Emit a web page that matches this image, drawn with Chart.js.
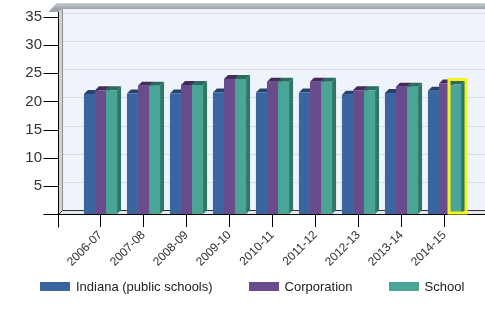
<!DOCTYPE html>
<html>
<head>
<meta charset="utf-8">
<title>Average class size</title>
<script src="https://cdn.jsdelivr.net/npm/chart.js@4"></script>
<style>
  html, body { margin: 0; padding: 0; background: #fff; }
  #wrap { position: relative; width: 485px; height: 328px; }
  #legend {
    position: absolute; left: 40px; top: 279px;
    display: flex; align-items: center;
    font: 13px "Liberation Sans", Arial, sans-serif; color: #222;
  }
  #legend .item { display: flex; align-items: center; margin-right: 36px; white-space: nowrap; }
  #legend .box { width: 30px; height: 9px; margin-right: 6px; }
</style>
</head>
<body>
<div id="wrap">
  <canvas id="chart" width="485" height="328"></canvas>
  <div id="legend"></div>
</div>
<script>
// school years on the x axis
const years = ['2006-07', '2007-08', '2008-09', '2009-10', '2010-11', '2011-12', '2012-13', '2013-14', '2014-15'];

const indiana = [21.3, 21.4, 21.4, 21.6, 21.6, 21.6, 21.2, 21.5, 21.9];
const corporation = [22.0, 22.8, 22.9, 24.0, 23.5, 23.5, 22.0, 22.6, 23.2];
const school = [22.0, 22.8, 22.9, 24.0, 23.5, 23.5, 22.0, 22.6, 23.0];

// y axis runs 0..35 in steps of 5
const yMax = 35;
const yStep = 5;

// colours: front face, side face, top face
const colors = [
    { front: '#3b65a1', side: '#2a4a7a', top: '#26436e' },
    { front: '#6a4b8b', side: '#4b3166', top: '#432b5c' },
    { front: '#4aa596', side: '#2f7667', top: '#2b6b5d' }
];

const DEPTH = 4;      // 3d offset of the walls and bars
const AXIS_GAP = 21;  // the y axis sits a bit left of the first category

const FONT = '"Liberation Sans", Arial, sans-serif';

// back wall, left wall, top band, grid lines and tick marks
const frame3d = {
    id: 'frame3d',
    beforeDraw(chart) {
        const { ctx, chartArea: a, scales: { y }, width } = chart;
        const x0 = Math.round(a.left - AXIS_GAP) + 0.5;
        const y0 = Math.round(y.getPixelForValue(0)) + 0.5;
        const wallTop = y.getPixelForValue(yMax) - DEPTH - 4;

        ctx.save();
        // back wall
        ctx.fillStyle = '#eff4fc';
        ctx.fillRect(x0 + DEPTH, wallTop, width - x0 - DEPTH, y0 - DEPTH - wallTop);

        // top band
        const g = ctx.createLinearGradient(0, wallTop - 6, 0, wallTop);
        g.addColorStop(0, '#c9ced4');
        g.addColorStop(1, '#9ca2a9');
        ctx.fillStyle = g;
        ctx.beginPath();
        ctx.moveTo(x0 - 10, wallTop + 3);
        ctx.lineTo(x0 - 2, wallTop - 6);
        ctx.lineTo(width, wallTop - 6);
        ctx.lineTo(width, wallTop);
        ctx.lineTo(x0 + DEPTH, wallTop);
        ctx.lineTo(x0, wallTop + 3);
        ctx.closePath();
        ctx.fill();

        // grid lines on the back wall
        ctx.strokeStyle = '#d7dce4';
        ctx.lineWidth = 1;
        for (let v = yStep; v <= yMax; v += yStep) {
            const py = Math.round(y.getPixelForValue(v) - DEPTH) + 0.5;
            ctx.beginPath();
            ctx.moveTo(x0 + DEPTH, py);
            ctx.lineTo(width, py);
            ctx.stroke();
        }

        // left wall
        ctx.fillStyle = '#cfd3d8';
        ctx.beginPath();
        ctx.moveTo(x0, wallTop + 3);
        ctx.lineTo(x0 + DEPTH, wallTop);
        ctx.lineTo(x0 + DEPTH, y0 - DEPTH);
        ctx.lineTo(x0, y0);
        ctx.closePath();
        ctx.fill();
        ctx.strokeStyle = '#8a8f96';
        ctx.beginPath();
        ctx.moveTo(x0 + DEPTH, wallTop);
        ctx.lineTo(x0 + DEPTH, y0 - DEPTH);
        ctx.stroke();

        // floor
        ctx.fillStyle = '#e3e7ec';
        ctx.beginPath();
        ctx.moveTo(x0, y0);
        ctx.lineTo(x0 + DEPTH, y0 - DEPTH);
        ctx.lineTo(width, y0 - DEPTH);
        ctx.lineTo(width, y0);
        ctx.closePath();
        ctx.fill();
        ctx.strokeStyle = '#333';
        ctx.beginPath();
        ctx.moveTo(x0, y0);
        ctx.lineTo(x0 + DEPTH, y0 - DEPTH);
        ctx.lineTo(width, y0 - DEPTH);
        ctx.stroke();

        // y axis line and tick marks
        ctx.strokeStyle = '#000';
        ctx.beginPath();
        ctx.moveTo(x0, wallTop + 3);
        ctx.lineTo(x0, y0 + 13);
        for (let v = yStep; v <= yMax; v += yStep) {
            const py = Math.round(y.getPixelForValue(v)) + 0.5;
            ctx.moveTo(x0 - 15, py);
            ctx.lineTo(x0, py);
        }
        ctx.stroke();
        ctx.restore();
    },
    // side and top faces go behind the front faces
    beforeDatasetsDraw(chart) {
        const ctx = chart.ctx;
        ctx.save();
        chart.data.datasets.forEach((ds, i) => {
            const c = colors[i];
            chart.getDatasetMeta(i).data.forEach(bar => {
                const l = bar.x - bar.width / 2;
                const r = bar.x + bar.width / 2;
                ctx.fillStyle = c.side;
                ctx.beginPath();
                ctx.moveTo(r, bar.y);
                ctx.lineTo(r + DEPTH, bar.y - DEPTH);
                ctx.lineTo(r + DEPTH, bar.base - DEPTH);
                ctx.lineTo(r, bar.base);
                ctx.closePath();
                ctx.fill();
                ctx.fillStyle = c.top;
                ctx.beginPath();
                ctx.moveTo(l, bar.y);
                ctx.lineTo(l + DEPTH, bar.y - DEPTH);
                ctx.lineTo(r + DEPTH, bar.y - DEPTH);
                ctx.lineTo(r, bar.y);
                ctx.closePath();
                ctx.fill();
            });
        });
        ctx.restore();
    },
    afterDatasetsDraw(chart) {
        const { ctx, chartArea: a, scales: { y }, width } = chart;
        const x0 = Math.round(a.left - AXIS_GAP) + 0.5;
        const y0 = Math.round(y.getPixelForValue(0)) + 0.5;
        ctx.save();
        // x axis line
        ctx.strokeStyle = '#000';
        ctx.beginPath();
        ctx.moveTo(x0 - 15, y0);
        ctx.lineTo(width, y0);
        ctx.stroke();

        // the current year of the school series is outlined
        const last = chart.getDatasetMeta(2).data[years.length - 1];
        ctx.strokeStyle = '#f4f41c';
        ctx.lineWidth = 3;
        ctx.strokeRect(last.x - last.width / 2 - 1, last.y - DEPTH - 1,
            last.width + DEPTH + 2, last.base - last.y + DEPTH);
        ctx.restore();
    }
};

// legend as html under the canvas
const htmlLegend = {
    id: 'htmlLegend',
    afterUpdate(chart) {
        const box = document.getElementById('legend');
        box.innerHTML = '';
        chart.data.datasets.forEach((ds, i) => {
            const item = document.createElement('span');
            item.className = 'item';
            const sw = document.createElement('span');
            sw.className = 'box';
            sw.style.background = colors[i].front;
            item.appendChild(sw);
            item.appendChild(document.createTextNode(ds.label));
            box.appendChild(item);
        });
    }
};

new Chart(document.getElementById('chart'), {
    type: 'bar',
    data: {
        labels: years,
        datasets: [
            { label: 'Indiana (public schools)', data: indiana, backgroundColor: colors[0].front },
            { label: 'Corporation', data: corporation, backgroundColor: colors[1].front },
            { label: 'School', data: school, backgroundColor: colors[2].front }
        ]
    },
    options: {
        responsive: false,
        animation: false,
        layout: { padding: { left: 0, right: 19, top: 17, bottom: 60 } },
        datasets: { bar: { categoryPercentage: 0.77, barPercentage: 1, borderWidth: 0 } },
        scales: {
            x: {
                afterFit(scale) { scale.height = 54; },
                grid: { offset: false, drawOnChartArea: false, tickLength: 13, tickColor: '#000' },
                border: { display: false },
                ticks: {
                    minRotation: 45, maxRotation: 45, autoSkip: false, padding: 1,
                    color: '#333', font: { family: FONT, size: 12 }
                }
            },
            y: {
                min: 0,
                max: yMax,
                afterFit(scale) { scale.width = 79; },
                // tick marks are drawn by frame3d; the hidden tick length keeps labels clear of them
                grid: { display: false, drawTicks: true, tickLength: 35 },
                border: { display: false },
                ticks: {
                    stepSize: yStep, padding: 2, color: '#333',
                    font: { family: FONT, size: 15 },
                    callback: v => v === 0 ? '' : v
                }
            }
        },
        plugins: {
            legend: { display: false },
            tooltip: { enabled: false }
        }
    },
    plugins: [frame3d, htmlLegend]
});
</script>
</body>
</html>
